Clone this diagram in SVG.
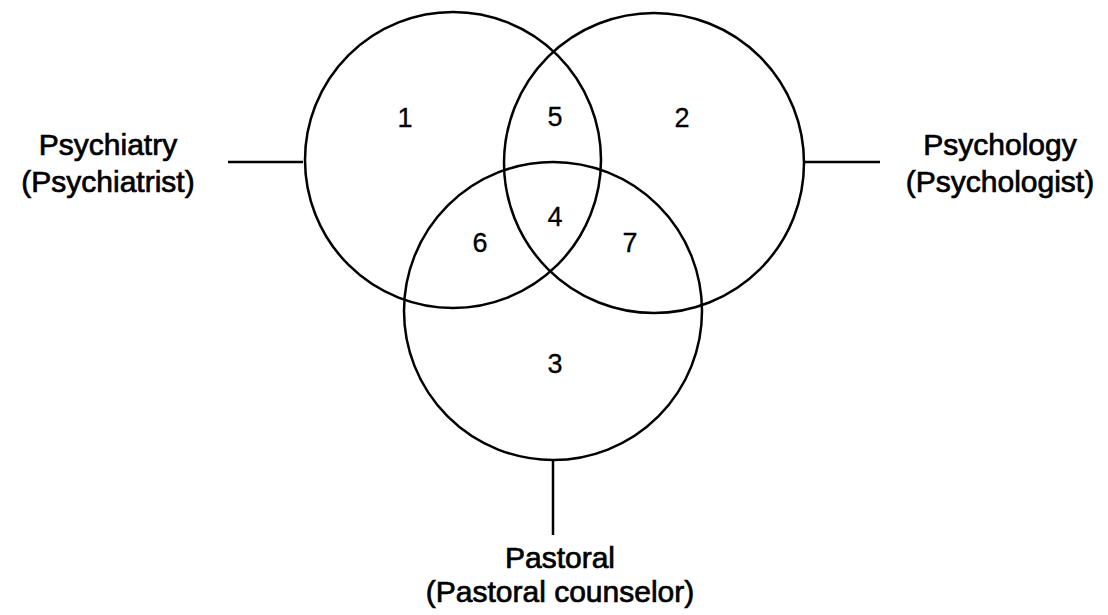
<svg xmlns="http://www.w3.org/2000/svg" width="1108" height="615" viewBox="0 0 1108 615">
<style>
.c{fill:none;stroke:#000;stroke-width:2.5}
.l{stroke:#000;stroke-width:2.5}
.t{font-family:"Liberation Sans",Arial,sans-serif;font-size:30px;fill:#000;stroke:#000;stroke-width:0.7;text-anchor:middle}
.n{font-family:"Liberation Sans",Arial,sans-serif;font-size:27px;fill:#000;stroke:#000;stroke-width:0.3;text-anchor:middle}
</style>
<rect width="1108" height="615" fill="#fff"/>
<g id="connectors">
<line class="l" x1="228" y1="162" x2="303" y2="162"/>
<line class="l" x1="805" y1="162" x2="880" y2="162"/>
<line class="l" x1="553" y1="460" x2="553" y2="535"/>
</g>
<g id="psychiatry">
<circle class="c" cx="453" cy="160" r="148"/>
<text class="t" x="108" y="155">Psychiatry</text>
<text class="t" x="108" y="192">(Psychiatrist)</text>
</g>
<g id="psychology">
<circle class="c" cx="654" cy="163" r="150"/>
<text class="t" x="1000" y="155">Psychology</text>
<text class="t" x="1000" y="192">(Psychologist)</text>
</g>
<g id="pastoral">
<circle class="c" cx="553" cy="311" r="149"/>
<text class="t" x="560" y="568">Pastoral</text>
<text class="t" x="560" y="602">(Pastoral counselor)</text>
</g>
<g id="regions">
<text class="n" x="405" y="127">1</text>
<text class="n" x="555" y="126">5</text>
<text class="n" x="682" y="127">2</text>
<text class="n" x="555" y="226">4</text>
<text class="n" x="480" y="252">6</text>
<text class="n" x="630" y="252">7</text>
<text class="n" x="555" y="373">3</text>
</g>
</svg>
